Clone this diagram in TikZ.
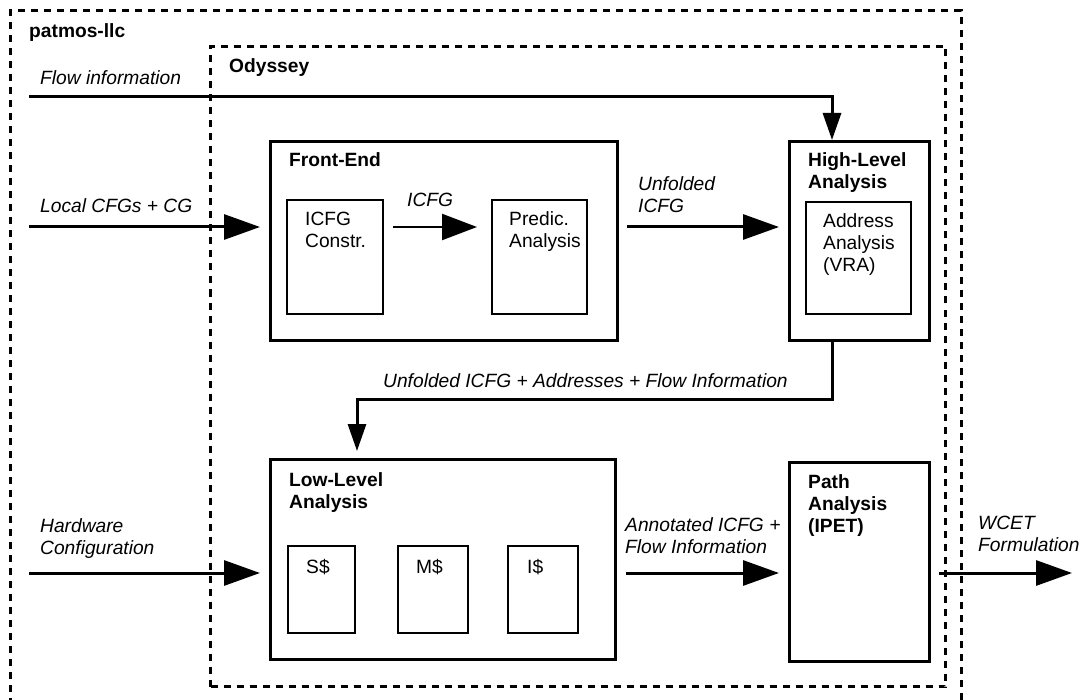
\documentclass[tikz,border=0pt]{standalone}
\usepackage{fontspec}
\setmainfont{Liberation Sans}
\usetikzlibrary{arrows.meta,calc}
\begin{document}
\begin{tikzpicture}[x=1pt,y=-1pt,
  txt/.style={anchor=base west,inner sep=0pt,align=left,font=\fontsize{19.2}{22}\selectfont},
  lbl/.style={txt,font=\fontsize{19.2}{22}\selectfont\itshape},
  ttl/.style={txt,font=\fontsize{19.2}{22}\selectfont\bfseries},
  bigbox/.style={draw,line width=3pt,inner sep=0pt,anchor=north west},
  smallbox/.style={draw,line width=2pt,inner sep=0pt,anchor=north west},
  container/.style={draw,line width=3pt,dash pattern=on 7pt off 6pt,inner sep=0pt,anchor=north west},
  harrow/.style={line width=3pt,-{Triangle[length=36pt,width=25pt]}},
  varrow/.style={line width=3pt,-{Triangle[length=27pt,width=18pt]}},
  thinarrow/.style={line width=2.2pt,-{Triangle[length=35pt,width=26pt]}},
]
\useasboundingbox (0,0) rectangle (1083,700);

% outer container (open at the bottom)
\draw[line width=3pt,dash pattern=on 7pt off 6pt] (10,705) |- (961,11) -- (961,705);
\node[ttl] (tpatmos) at (29,38) {patmos-llc};

% Odyssey container
\node[container,minimum width=735pt,minimum height=640pt] (ody) at (209,45) {};
\node[ttl] (tody) at (229,73) {Odyssey};

% Front-End
\node[bigbox,minimum width=347pt,minimum height=199pt] (fe) at (269,140) {};
\node[ttl] (tfe) at (289,167) {Front-End};
\node[smallbox,minimum width=96pt,minimum height=114pt] (icfgc) at (286,199) {};
\node[txt] (ticfgc) at (305,248) {ICFG\\Constr.};
\node[smallbox,minimum width=95pt,minimum height=114pt] (pred) at (491,199) {};
\node[txt] (tpred) at (509,248) {Predic.\\Analysis};

% High-Level
\node[bigbox,minimum width=140pt,minimum height=199pt] (hl) at (788,140) {};
\node[ttl] (thl) at (808,189) {High-Level\\Analysis};
\node[smallbox,minimum width=105pt,minimum height=112pt] (addr) at (805,201) {};
\node[txt] (taddr) at (823,272) {Address\\Analysis\\(VRA)};

% Low-Level
\node[bigbox,minimum width=345pt,minimum height=200pt] (ll) at (269,458) {};
\node[ttl] (tll) at (289,508) {Low-Level\\Analysis};
\node[smallbox,minimum width=67pt,minimum height=87pt] (sc) at (287,545) {};
\node[txt] (tsc) at (306,573) {S\$};
\node[smallbox,minimum width=70pt,minimum height=87pt] (mc) at (397,545) {};
\node[txt] (tmc) at (416,573) {M\$};
\node[smallbox,minimum width=70pt,minimum height=87pt] (ic) at (507,545) {};
\node[txt] (tic) at (527,573) {I\$};

% Path Analysis
\node[bigbox,minimum width=140pt,minimum height=199pt] (pa) at (788,461) {};
\node[ttl] (tpa) at (808,532) {Path\\Analysis\\(IPET)};

% coordinates
\coordinate (flowin) at (29,97);
\coordinate (hx) at (832,0);
\coordinate (lx) at (357,0);
\coordinate (cfgin) at (29,227);
\coordinate (hwin) at (29,573);
\coordinate (mid) at (0,399);
\coordinate (wcetout) at (1072,573);

% connectors
\draw[varrow] (flowin) -| (hx |- hl.north);
\node[lbl] (tflow) at (40,85) {Flow information};

\draw[harrow,shorten >=9pt] (cfgin) -- (cfgin -| fe.west);
\node[lbl] (tcfg) at (40,213) {Local CFGs + CG};

\draw[thinarrow,shorten <=9pt,shorten >=14pt] (icfgc.east |- cfgin) -- (pred.west |- cfgin);
\node[lbl] (ticfg) at (407,207) {ICFG};

\draw[harrow,shorten <=8pt,shorten >=9pt] (fe.east |- cfgin) -- (hl.west |- cfgin);
\node[lbl] (tunf) at (638,213) {Unfolded\\ICFG};

\draw[varrow,shorten >=7pt] (hx |- hl.south) -- (hx |- mid) -- (lx |- mid) -- (lx |- ll.north);
\node[lbl] (tunf2) at (383,387) {Unfolded ICFG + Addresses + Flow Information};

\draw[harrow,shorten >=9pt] (hwin) -- (hwin -| ll.west);
\node[lbl] (thw) at (40,554) {Hardware\\Configuration};

\draw[harrow,shorten <=9pt,shorten >=9pt] (ll.east |- hwin) -- (pa.west |- hwin);
\node[lbl] (tann) at (625,553) {Annotated ICFG +\\Flow Information};

\draw[harrow,shorten <=8pt] (pa.east |- hwin) -- (wcetout);
\node[lbl] (twcet) at (978,551) {WCET\\Formulation};
\end{tikzpicture}
\end{document}
